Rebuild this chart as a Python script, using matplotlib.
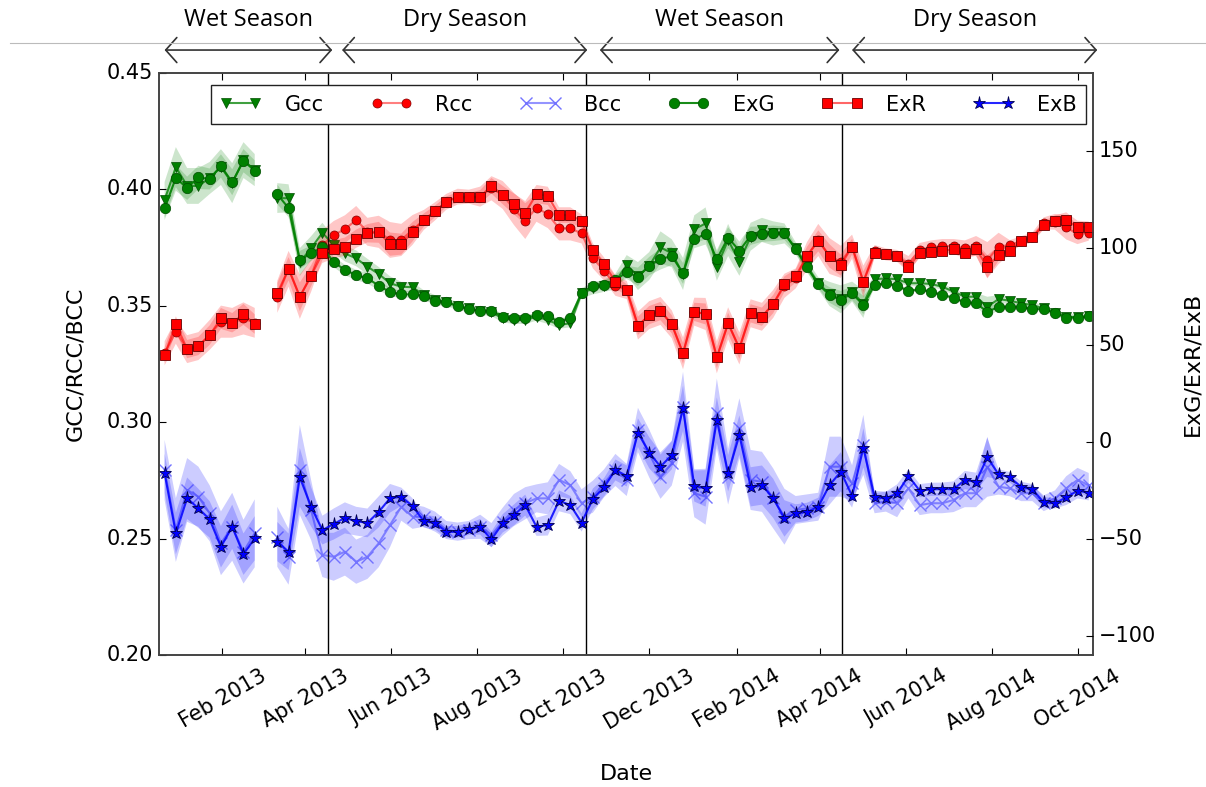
import numpy as np
import pandas as pd
import matplotlib
matplotlib.use("Agg")
import matplotlib.pyplot as plt
import matplotlib.dates as mdates
from matplotlib.lines import Line2D
from datetime import datetime

nan = np.nan

# one sample every 8 days, starting 22 Dec 2012 (gap in early March 2013)
dates = pd.date_range("2012-12-22", periods=83, freq="8D")

gcc = [0.3955, 0.4096, 0.4015, 0.4015, 0.4049, 0.4096, 0.4027, 0.4126, 0.4083, nan,
       0.3963, 0.3962, 0.3688, 0.3747, 0.3814, 0.3761, 0.3725, 0.3704, 0.3668, 0.3637,
       0.3597, 0.3582, 0.3580, 0.3546, 0.3525, 0.3515, 0.3500, 0.3489, 0.3479, 0.3473,
       0.3446, 0.3439, 0.3439, 0.3453, 0.3439, 0.3418, 0.3425, 0.3554, 0.3575, 0.3586,
       0.3604, 0.3675, 0.3628, 0.3671, 0.3751, 0.3726, 0.3637, 0.3829, 0.3854, 0.3668,
       0.3783, 0.3689, 0.3797, 0.3826, 0.3811, 0.3811, 0.3747, 0.3671, 0.3597, 0.3551,
       0.3528, 0.3561, 0.3508, 0.3614, 0.3618, 0.3614, 0.3597, 0.3597, 0.3594, 0.3582,
       0.3561, 0.3539, 0.3539, 0.3496, 0.3529, 0.3522, 0.3511, 0.3503, 0.3489, 0.3470,
       0.3453, 0.3451, 0.3456]

rcc = [0.3296, 0.3389, 0.3314, 0.3327, 0.3375, 0.3432, 0.3427, 0.3446, 0.3427, nan,
       0.3539, 0.3659, 0.3539, 0.3629, 0.3761, 0.3804, 0.3829, 0.3869, 0.3818, 0.3818,
       0.3783, 0.3783, 0.3826, 0.3869, 0.3906, 0.3947, 0.3969, 0.3969, 0.3969, 0.4005,
       0.3976, 0.3916, 0.3864, 0.3921, 0.3894, 0.3833, 0.3833, 0.3811, 0.3704, 0.3651,
       0.3586, 0.3568, 0.3415, 0.3460, 0.3478, 0.3421, 0.3296, 0.3475, 0.3465, 0.3279,
       0.3425, 0.3317, 0.3468, 0.3453, 0.3508, 0.3586, 0.3618, 0.3714, 0.3783, 0.3714,
       0.3689, 0.3754, 0.3604, 0.3735, 0.3721, 0.3714, 0.3680, 0.3740, 0.3751, 0.3757,
       0.3757, 0.3747, 0.3757, 0.3697, 0.3754, 0.3761, 0.3778, 0.3794, 0.3854, 0.3861,
       0.3837, 0.3808, 0.3814]

bcc = [0.2795, 0.2537, 0.2709, 0.2680, 0.2609, 0.2480, 0.2551, 0.2444, 0.2523, nan,
       0.2508, 0.2422, 0.2795, 0.2623, 0.2430, 0.2422, 0.2444, 0.2401, 0.2422, 0.2480,
       0.2558, 0.2637, 0.2594, 0.2594, 0.2573, 0.2537, 0.2530, 0.2537, 0.2551, 0.2515,
       0.2573, 0.2623, 0.2652, 0.2673, 0.2673, 0.2752, 0.2730, 0.2652, 0.2680, 0.2738,
       0.2795, 0.2752, 0.2967, 0.2866, 0.2766, 0.2823, 0.3067, 0.2695, 0.2680, 0.3038,
       0.2766, 0.2974, 0.2752, 0.2744, 0.2673, 0.2594, 0.2623, 0.2630, 0.2637, 0.2809,
       0.2809, 0.2738, 0.2903, 0.2652, 0.2659, 0.2652, 0.2716, 0.2644, 0.2652, 0.2652,
       0.2666, 0.2695, 0.2695, 0.2809, 0.2723, 0.2716, 0.2695, 0.2695, 0.2652, 0.2673,
       0.2716, 0.2752, 0.2730]

exg = [120.2, 136.0, 130.6, 136.2, 135.4, 142.1, 133.7, 144.8, 139.6, nan,
       127.5, 120.4, 93.6, 97.1, 100.2, 92.6, 88.5, 85.9, 84.2, 80.4,
       77.1, 75.9, 75.9, 75.2, 72.6, 71.8, 70.0, 68.3, 67.5, 67.5,
       64.4, 63.6, 63.6, 65.2, 64.7, 61.8, 63.9, 76.7, 80.2, 80.7,
       83.3, 87.3, 85.0, 90.5, 94.1, 95.7, 86.7, 104.4, 107.0, 94.1,
       105.1, 98.4, 106.1, 107.0, 107.4, 107.4, 99.1, 89.8, 81.1, 75.6,
       73.0, 76.4, 70.4, 80.7, 81.6, 80.4, 77.6, 78.5, 77.3, 75.6,
       74.2, 71.8, 71.3, 66.9, 69.5, 69.2, 69.5, 68.3, 68.3, 66.4,
       63.9, 63.9, 64.7]

exr = [44.6, 60.6, 47.7, 49.3, 54.9, 63.5, 61.3, 65.6, 60.6, nan,
       76.4, 89.1, 74.7, 85.5, 97.1, 99.1, 100.5, 104.6, 107.4, 107.9,
       101.8, 101.8, 108.2, 114.2, 118.7, 123.7, 125.9, 125.9, 126.2, 131.9,
       127.1, 122.5, 118.0, 127.6, 126.7, 116.8, 116.8, 113.7, 98.8, 91.5,
       82.4, 78.1, 59.7, 65.2, 67.3, 60.5, 45.5, 66.9, 65.8, 43.4,
       61.0, 48.1, 66.1, 64.4, 70.9, 81.2, 85.4, 95.7, 103.5, 95.7,
       91.0, 100.5, 82.4, 97.1, 96.5, 95.7, 90.1, 97.1, 97.6, 98.4,
       99.1, 97.1, 99.3, 90.1, 96.2, 98.4, 103.4, 105.3, 111.6, 113.9,
       114.2, 110.5, 110.8]

exb = [-16.3, -47.3, -29.2, -34.4, -40.1, -54.2, -43.9, -58.0, -49.8, nan,
       -51.5, -56.8, -18.4, -33.6, -45.6, -42.5, -39.3, -41.0, -41.9, -36.2,
       -29.2, -28.4, -33.2, -41.0, -41.9, -46.5, -46.5, -45.1, -43.9, -50.4,
       -42.1, -37.8, -32.7, -43.9, -43.0, -30.5, -32.7, -41.7, -29.6, -23.5,
       -14.6, -17.7, 4.6, -5.7, -12.9, -6.9, 17.2, -22.9, -24.1, 11.1,
       -16.3, 3.4, -23.3, -22.4, -29.2, -39.6, -37.0, -36.2, -33.6, -22.4,
       -15.5, -28.0, -3.2, -28.7, -29.2, -26.7, -17.7, -25.3, -24.6, -24.5,
       -24.5, -19.8, -20.7, -8.1, -16.9, -18.4, -23.3, -24.6, -31.3, -31.8,
       -28.7, -25.3, -26.3]

# half widths of the shaded bands
gcc_sd = [0.0077, 0.0086, 0.0077, 0.0077, 0.0069, 0.0077, 0.0086, 0.0077, 0.0069, nan,
          0.0064, 0.0060, 0.0060, 0.0052, 0.0043, 0.0034, 0.0034, 0.0034, 0.0034, 0.0030,
          0.0030, 0.0021, 0.0021, 0.0021, 0.0021, 0.0017, 0.0017, 0.0017, 0.0017, 0.0017,
          0.0017, 0.0017, 0.0017, 0.0017, 0.0017, 0.0017, 0.0017, 0.0021, 0.0026, 0.0026,
          0.0034, 0.0043, 0.0060, 0.0060, 0.0069, 0.0060, 0.0069, 0.0060, 0.0069, 0.0060,
          0.0069, 0.0060, 0.0060, 0.0052, 0.0052, 0.0043, 0.0026, 0.0026, 0.0026, 0.0052,
          0.0060, 0.0043, 0.0060, 0.0013, 0.0013, 0.0013, 0.0013, 0.0013, 0.0013, 0.0013,
          0.0013, 0.0013, 0.0017, 0.0043, 0.0017, 0.0013, 0.0013, 0.0013, 0.0013, 0.0013,
          0.0013, 0.0013, 0.0013]

exg_sd = [6.0, 6.7, 6.0, 6.0, 5.4, 6.0, 6.7, 6.0, 5.4, nan,
          5.0, 4.7, 4.7, 4.0, 3.4, 2.7, 2.7, 2.7, 2.7, 2.3,
          2.3, 1.7, 1.7, 1.7, 1.7, 1.3, 1.3, 1.3, 1.3, 1.3,
          1.3, 1.3, 1.3, 1.3, 1.3, 1.3, 1.3, 1.7, 2.0, 2.0,
          2.7, 3.4, 4.7, 4.7, 5.4, 4.7, 5.4, 4.7, 5.4, 4.7,
          5.4, 4.7, 4.7, 4.0, 4.0, 3.4, 2.0, 2.0, 2.0, 4.0,
          4.7, 3.4, 4.7, 1.0, 1.0, 1.0, 1.0, 1.0, 1.0, 1.0,
          1.0, 1.0, 1.3, 3.4, 1.3, 1.0, 1.0, 1.0, 1.0, 1.0,
          1.0, 1.0, 1.0]

rcc_sd = [0.0052, 0.0052, 0.0060, 0.0060, 0.0064, 0.0069, 0.0064, 0.0069, 0.0064, nan,
          0.0069, 0.0077, 0.0095, 0.0069, 0.0064, 0.0060, 0.0060, 0.0060, 0.0060, 0.0069,
          0.0077, 0.0069, 0.0064, 0.0043, 0.0039, 0.0034, 0.0034, 0.0030, 0.0043, 0.0052,
          0.0060, 0.0069, 0.0077, 0.0060, 0.0060, 0.0052, 0.0052, 0.0043, 0.0043, 0.0043,
          0.0043, 0.0039, 0.0060, 0.0060, 0.0060, 0.0060, 0.0069, 0.0060, 0.0069, 0.0069,
          0.0069, 0.0069, 0.0060, 0.0060, 0.0060, 0.0052, 0.0043, 0.0060, 0.0069, 0.0077,
          0.0069, 0.0052, 0.0069, 0.0026, 0.0026, 0.0026, 0.0034, 0.0030, 0.0030, 0.0030,
          0.0030, 0.0034, 0.0043, 0.0077, 0.0060, 0.0021, 0.0021, 0.0021, 0.0026, 0.0034,
          0.0052, 0.0043, 0.0034]

exr_sd = [4.0, 4.0, 4.7, 4.7, 5.0, 5.4, 5.0, 5.4, 5.0, nan,
          5.4, 6.0, 7.4, 5.4, 5.0, 4.7, 4.7, 4.7, 4.7, 5.4,
          6.0, 5.4, 5.0, 3.4, 3.0, 2.7, 2.7, 2.3, 3.4, 4.0,
          4.7, 5.4, 6.0, 4.7, 4.7, 4.0, 4.0, 3.4, 3.4, 3.4,
          3.4, 3.0, 4.7, 4.7, 4.7, 4.7, 5.4, 4.7, 5.4, 5.4,
          5.4, 5.4, 4.7, 4.7, 4.7, 4.0, 3.4, 4.7, 5.4, 6.0,
          5.4, 4.0, 5.4, 2.0, 2.0, 2.0, 2.7, 2.3, 2.3, 2.3,
          2.3, 2.7, 3.4, 6.0, 4.7, 1.7, 1.7, 1.7, 2.0, 2.7,
          4.0, 3.4, 2.7]

bcc_sd = [0.0129, 0.0137, 0.0137, 0.0129, 0.0120, 0.0137, 0.0146, 0.0137, 0.0146, nan,
          0.0129, 0.0120, 0.0193, 0.0129, 0.0095, 0.0103, 0.0103, 0.0095, 0.0095, 0.0103,
          0.0095, 0.0060, 0.0052, 0.0043, 0.0043, 0.0039, 0.0039, 0.0039, 0.0052, 0.0052,
          0.0060, 0.0069, 0.0069, 0.0060, 0.0069, 0.0069, 0.0060, 0.0060, 0.0069, 0.0060,
          0.0069, 0.0069, 0.0095, 0.0103, 0.0095, 0.0095, 0.0150, 0.0103, 0.0120, 0.0150,
          0.0120, 0.0129, 0.0129, 0.0129, 0.0129, 0.0120, 0.0060, 0.0060, 0.0060, 0.0129,
          0.0129, 0.0077, 0.0129, 0.0043, 0.0043, 0.0060, 0.0043, 0.0043, 0.0043, 0.0043,
          0.0052, 0.0060, 0.0060, 0.0129, 0.0034, 0.0034, 0.0034, 0.0034, 0.0034, 0.0034,
          0.0052, 0.0052, 0.0052]

exb_sd = [10.1, 10.7, 10.7, 10.1, 9.4, 10.7, 11.4, 10.7, 11.4, nan,
          10.1, 9.4, 15.1, 10.1, 7.4, 8.0, 8.0, 7.4, 7.4, 8.0,
          7.4, 4.7, 4.0, 3.4, 3.4, 3.0, 3.0, 3.0, 4.0, 4.0,
          4.7, 5.4, 5.4, 4.7, 5.4, 5.4, 4.7, 4.7, 5.4, 4.7,
          5.4, 5.4, 7.4, 8.0, 7.4, 7.4, 11.7, 8.0, 9.4, 11.7,
          9.4, 10.1, 10.1, 10.1, 10.1, 9.4, 4.7, 4.7, 4.7, 10.1,
          10.1, 6.0, 10.1, 3.4, 3.4, 4.7, 3.4, 3.4, 3.4, 3.4,
          4.0, 4.7, 4.7, 10.1, 2.7, 2.7, 2.7, 2.7, 2.7, 2.7,
          4.0, 4.0, 4.0]

season_edges = [datetime(2013, 4, 17), datetime(2013, 10, 17), datetime(2014, 4, 17)]
season_names = ["Wet Season", "Dry Season", "Wet Season", "Dry Season"]
season_spans = [(datetime(2012, 12, 22), datetime(2013, 4, 20)),
                (datetime(2013, 4, 27), datetime(2013, 10, 18)),
                (datetime(2013, 10, 27), datetime(2014, 4, 15)),
                (datetime(2014, 4, 24), datetime(2014, 10, 15))]


def band(ax, y, sd, color, alpha):
    y = np.array(y)
    sd = np.array(sd)
    ax.fill_between(dates, y - sd, y + sd, color=color, alpha=alpha, lw=0)


def main():
    plt.style.use("classic")
    fig = plt.figure(figsize=(12.06, 7.87), dpi=100, facecolor="white")
    ax1 = fig.add_axes([0.1318, 0.1677, 0.7745, 0.7395])
    ax2 = ax1.twinx()

    band(ax1, gcc, gcc_sd, "green", 0.2)
    band(ax1, rcc, rcc_sd, "red", 0.22)
    band(ax1, bcc, bcc_sd, "blue", 0.2)
    band(ax2, exg, exg_sd, "green", 0.2)
    band(ax2, exr, exr_sd, "red", 0.22)
    band(ax2, exb, exb_sd, "blue", 0.2)

    h = []
    h += ax1.plot(dates, gcc, color=(0, 0.5, 0, 0.75), lw=1.5, marker="v", ms=6.5,
                  mfc="green", mec=(0, 0.3, 0), mew=0.5, label="Gcc")
    h += ax1.plot(dates, rcc, color=(1, 0, 0, 0.5), lw=1.5, marker="o", ms=6.5,
                  mfc="red", mec=(0.5, 0, 0), mew=0.5, label="Rcc")
    h += ax1.plot(dates, bcc, color=(0.3, 0.3, 1, 0.6), lw=1.5, marker="x", ms=9,
                  mec=(0.45, 0.45, 1), mew=1, label="Bcc")
    h += ax2.plot(dates, exg, color=(0, 0.5, 0, 0.9), lw=1.5, marker="o", ms=7.5,
                  mfc="green", mec=(0, 0.3, 0), mew=0.5, label="ExG")
    h += ax2.plot(dates, exr, color=(1, 0, 0, 0.6), lw=1.5, marker="s", ms=7,
                  mfc="red", mec=(0.4, 0, 0), mew=0.6, label="ExR")
    h += ax2.plot(dates, exb, color=(0, 0, 1, 0.85), lw=1.5, marker="*", ms=9.5,
                  mfc="blue", mec=(0, 0, 0.3), mew=0.6, label="ExB")

    for d in season_edges:
        ax1.axvline(d, color="black", lw=1)

    ax1.set_xlim(datetime(2012, 12, 18), datetime(2014, 10, 12))
    ax1.set_ylim(0.20, 0.45)
    ax2.set_ylim(-110, 190)
    ax1.set_yticks([0.20, 0.25, 0.30, 0.35, 0.40, 0.45])
    ax2.set_yticks([-100, -50, 0, 50, 100, 150])
    ax1.yaxis.set_major_formatter(matplotlib.ticker.FormatStrFormatter("%.2f"))

    ax1.xaxis.set_major_locator(mdates.MonthLocator(bymonth=[2, 4, 6, 8, 10, 12]))
    ax1.xaxis.set_major_formatter(mdates.DateFormatter("%b %Y"))
    for lab in ax1.get_xticklabels():
        lab.set_rotation(30)
        lab.set_ha("center")

    for ax in (ax1, ax2):
        ax.tick_params(labelsize=15, direction="in", length=5, width=0.8)
        for s in ax.spines.values():
            s.set_color("#444444")
            s.set_linewidth(1.2)
    ax1.tick_params(axis="x", pad=8)

    ax1.set_xlabel("Date", fontsize=16, labelpad=22)
    ax1.set_ylabel("GCC/RCC/BCC", fontsize=16, labelpad=16)
    ax2.set_ylabel("ExG/ExR/ExB", fontsize=16, labelpad=19)

    leg = ax2.legend(h, [l.get_label() for l in h], loc="upper center",
                     bbox_to_anchor=(0.524, 0.979), ncol=6, fontsize=15,
                     numpoints=2, handlelength=2.0, handletextpad=1.1,
                     columnspacing=2.25, borderaxespad=0, borderpad=0.45,
                     fancybox=False)
    leg.get_frame().set_edgecolor("#222222")

    # season arrows above the plot
    for (start, end), name in zip(season_spans, season_names):
        ax1.annotate("", xy=(end, 1.0395), xytext=(start, 1.0395),
                     xycoords=("data", "axes fraction"),
                     textcoords=("data", "axes fraction"),
                     annotation_clip=False,
                     arrowprops=dict(arrowstyle="<->,head_length=0.4,head_width=0.45",
                                     mutation_scale=20, color="#333333", lw=1.2,
                                     shrinkA=0, shrinkB=0))
        mid = start + (end - start) / 2
        ax1.text(mid, 1.091, name, transform=ax1.get_xaxis_transform(),
                 ha="center", va="center", fontsize=17, family="Open Sans",
                 clip_on=False)

    fig.add_artist(Line2D([10 / 1206, 1.0], [1 - 43 / 787, 1 - 43 / 787],
                          transform=fig.transFigure, color="#bbbbbb", lw=0.8))

    fig.savefig("out.png", dpi=100, facecolor="white")


if __name__ == "__main__":
    main()
